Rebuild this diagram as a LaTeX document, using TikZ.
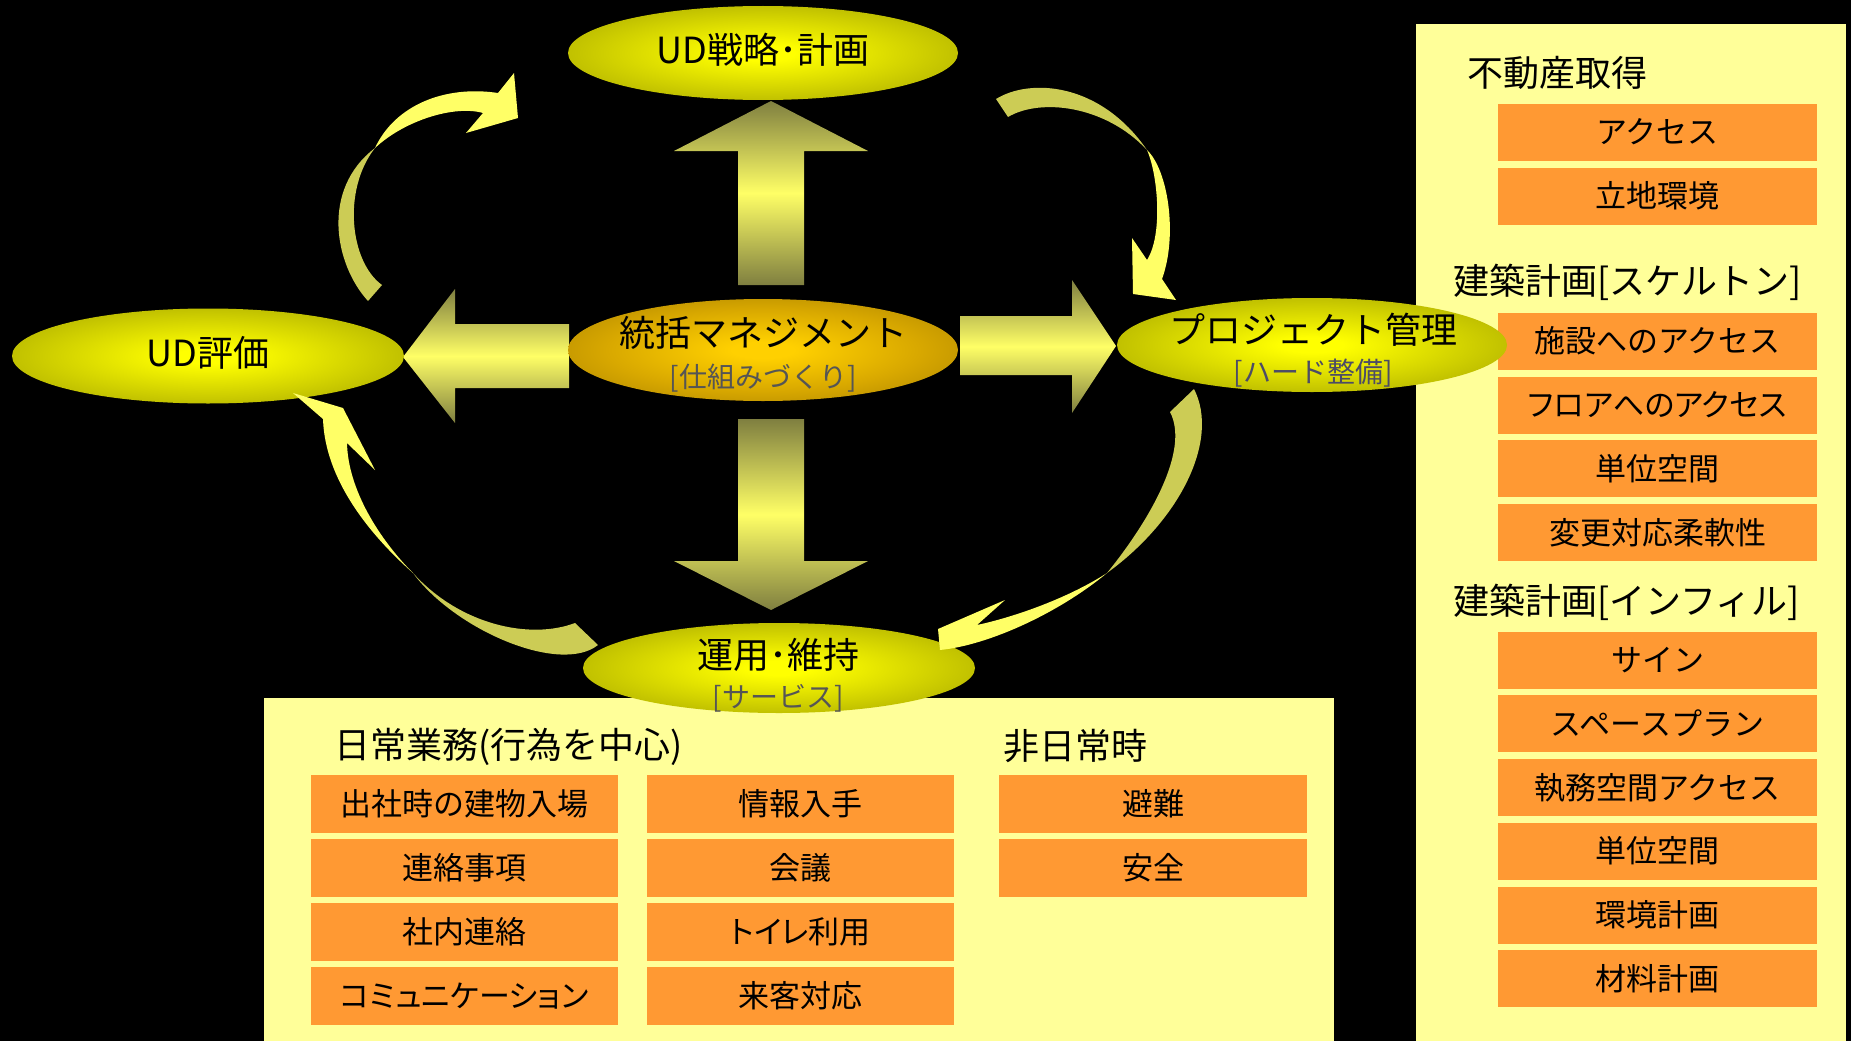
\documentclass[tikz,border=0pt]{standalone}
\usepackage{fontspec}
\setmainfont{Noto Sans CJK JP}
\usetikzlibrary{shapes.geometric}
\definecolor{panelc}{HTML}{FFFF99}
\definecolor{boxc}{HTML}{FF9933}
\definecolor{pale}{HTML}{CCCC55}
\definecolor{bright}{HTML}{FFFF66}
\definecolor{olv}{HTML}{6A6A00}
\definecolor{ylw}{HTML}{FFFF00}
\definecolor{midy}{HTML}{D0D000}
\definecolor{midy2}{HTML}{A0A000}
\definecolor{gold}{HTML}{FFD000}
\definecolor{midg}{HTML}{D8A800}
\definecolor{midg2}{HTML}{A88000}
\definecolor{brn}{HTML}{745A00}
\definecolor{arrdark}{HTML}{7F7F40}
\definecolor{subgray}{HTML}{555555}
\pgfdeclareradialshading{yelsh}{\pgfpoint{0bp}{0bp}}{color(0bp)=(ylw); color(4bp)=(ylw); color(20bp)=(midy); color(36bp)=(midy2); color(50bp)=(olv)}
\pgfdeclareradialshading{goldsh}{\pgfpoint{0bp}{0bp}}{color(0bp)=(gold); color(4bp)=(gold); color(20bp)=(midg); color(36bp)=(midg2); color(50bp)=(brn)}
\tikzset{
  ell/.style={ellipse, inner sep=0, shading=yelsh},
  lbl/.style={font=\fontsize{36}{40}\selectfont, inner sep=0, text=black},
  sublbl/.style={font=\fontsize{28}{32}\selectfont, inner sep=0, text=subgray},
  ttl/.style={font=\fontsize{36}{40}\selectfont, inner sep=0, anchor=west, text=black},
  obox/.style={fill=boxc, inner sep=0, font=\fontsize{31}{34}\selectfont, minimum height=57pt, text=black},
  rbox/.style={obox, minimum width=319pt},
  bbox/.style={obox, minimum width=307pt, minimum height=58pt},
  blockarrow/.style={top color=arrdark, bottom color=arrdark, middle color=bright},
}
\begin{document}
\begin{tikzpicture}[x=1pt,y=-1pt]
\fill[black] (0,0) rectangle (1851,1041);
\useasboundingbox (0,0) rectangle (1851,1041);
% panels
\fill[panelc] (1416,24) rectangle (1846,1041);
\fill[panelc] (264,698) rectangle (1334,1041);
% right panel
\node[ttl] (t1) at (1467,73) {不動産取得};
\node[rbox] (r1) at (1657.5,132) {アクセス};
\node[rbox] (r2) at (1657.5,196) {立地環境};
\node[ttl] (t2) at (1453,282) {建築計画[スケルトン]};
\node[rbox] (r3) at (1657.5,341) {施設へのアクセス};
\node[rbox] (r4) at (1657.5,405) {\addfontfeature{RawFeature=+palt}フロアへのアクセス};
\node[rbox] (r5) at (1657.5,468.5) {単位空間};
\node[rbox] (r6) at (1657.5,532.5) {変更対応柔軟性};
\node[ttl] (t3) at (1453,602) {建築計画[インフィル]};
\node[rbox] (r7) at (1657.5,660) {サイン};
\node[rbox] (r8) at (1657.5,723.5) {スペースプラン};
\node[rbox] (r9) at (1657.5,787.5) {執務空間アクセス};
\node[rbox] (r10) at (1657.5,851) {単位空間};
\node[rbox] (r11) at (1657.5,915) {環境計画};
\node[rbox] (r12) at (1657.5,978.5) {材料計画};
% bottom panel
\node[ttl] (t4) at (334,747) {日常業務(行為を中心)};
\node[ttl] (t5) at (1003,746) {非日常時};
\node[bbox] (b1) at (464.5,804) {出社時の建物入場};
\node[bbox] (b2) at (464.5,868) {連絡事項};
\node[bbox] (b3) at (464.5,932) {社内連絡};
\node[bbox] (b4) at (464.5,996) {\addfontfeature{RawFeature=+palt}コミュニケーション};
\node[bbox] (b5) at (800.5,804) {情報入手};
\node[bbox] (b6) at (800.5,868) {会議};
\node[bbox] (b7) at (800.5,932) {\addfontfeature{RawFeature=+palt}トイレ利用};
\node[bbox] (b8) at (800.5,996) {来客対応};
\node[bbox, minimum width=308pt] (b9) at (1153,804) {避難};
\node[bbox, minimum width=308pt] (b10) at (1153,868) {安全};
% block arrows
\shade[blockarrow] (738,285) -- (738,151) -- (674,151) -- (771,101) -- (868,151) -- (804,151) -- (804,285) -- cycle;
\shade[blockarrow] (738,419) -- (738,561) -- (674,561) -- (771,610) -- (868,561) -- (804,561) -- (804,419) -- cycle;
\shade[blockarrow] (569,324) -- (455,324) -- (455,289) -- (403,357) -- (455,423) -- (455,388) -- (569,388) -- cycle;
\shade[blockarrow] (960,316) -- (1072,316) -- (1072,280) -- (1116,346) -- (1072,413) -- (1072,375) -- (960,375) -- cycle;
% ellipses
\node[ell, minimum width=390pt, minimum height=94pt] (plan) at (763,53) {};
\node[ell, minimum width=392pt, minimum height=95pt] (eval) at (208,356) {};
\node[ell, shading=goldsh, minimum width=390pt, minimum height=102pt] (mgmt) at (763,350) {};
\node[ell, minimum width=390pt, minimum height=94pt] (proj) at (1312,345) {};
\node[ell, minimum width=392pt, minimum height=90pt] (ops) at (779,668) {};
% curved arrows
\fill[pale] (368,301) .. controls (335,265) and (320,190) .. (375,148) .. controls (342,190) and (350,262) .. (382,285) -- cycle;
\fill[bright] (375,148) .. controls (395,105) and (445,85) .. (498,93) -- (514,73) -- (518,118) -- (466,133) -- (483,113) .. controls (455,105) and (405,120) .. (375,148) -- cycle;
\fill[pale] (996,99) .. controls (1030,78) and (1100,82) .. (1147,150) .. controls (1105,105) and (1040,98) .. (1008,117) -- cycle;
\fill[bright] (1147,150) .. controls (1168,170) and (1178,235) .. (1162,279) -- (1176,300) -- (1133,294) -- (1132,238) -- (1147,260) .. controls (1163,235) and (1158,175) .. (1147,150) -- cycle;
\fill[pale] (1194,389) .. controls (1220,440) and (1180,520) .. (1107,573) .. controls (1150,520) and (1190,450) .. (1170,412) -- cycle;
\fill[bright] (1107,573) .. controls (1060,612) and (990,645) .. (940,650) -- (938,629) -- (1005,600) -- (977,625) .. controls (1010,618) and (1065,600) .. (1107,573) -- cycle;
\fill[bright] (413,573) .. controls (370,535) and (325,480) .. (323,419) -- (293,393) -- (343,408) -- (375,470) -- (347,443) .. controls (348,490) and (380,540) .. (413,573) -- cycle;
\fill[pale] (413,573) .. controls (460,625) and (530,640) .. (575,623) -- (598,645) .. controls (560,675) and (455,630) .. (413,573) -- cycle;
% ellipse labels
\node[lbl] (planl) at (763,50) {UD戦略･計画};
\node[lbl] (evall) at (208,353) {UD評価};
\node[lbl] (mgmtl) at (763,333) {統括マネジメント};
\node[sublbl] (mgmts) at (763,378) {[仕組みづくり]};
\node[lbl] (projl) at (1313,330) {プロジェクト管理};
\node[sublbl, text=subgray!90!blue] (projs) at (1313,373) {[ハード整備]};
\node[lbl] (opsl) at (778,655) {運用･維持};
\node[sublbl] (opss) at (778,698) {[サービス]};
\end{tikzpicture}
\end{document}
